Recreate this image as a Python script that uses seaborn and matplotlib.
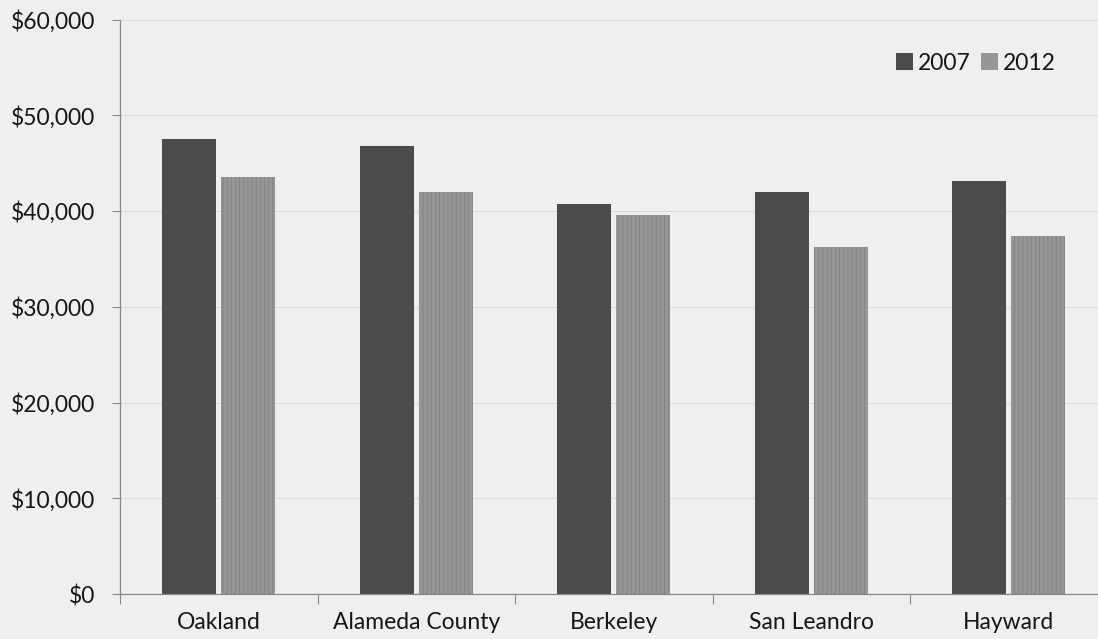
import matplotlib
matplotlib.use("Agg")
import matplotlib.pyplot as plt
from matplotlib.ticker import FuncFormatter, FixedLocator
import seaborn as sns
import pandas as pd

# Median household income by place, 2007 vs 2012
places = ["Oakland", "Alameda County", "Berkeley", "San Leandro", "Hayward"]
income_2007 = [47500, 46800, 40700, 42000, 43100]
income_2012 = [43500, 42000, 39600, 36200, 37400]
years = ["2007", "2012"]

df = pd.DataFrame({
    "place": places * 2,
    "year": [years[0]] * len(places) + [years[1]] * len(places),
    "income": income_2007 + income_2012,
})

sns.set_theme(style="white")
plt.rcParams["font.family"] = ["Lato", "DejaVu Sans"]
plt.rcParams["hatch.linewidth"] = 0.6

bg = "#efefed"
text_color = "#161616"
fs = 16.5

fig = plt.figure(figsize=(10.98, 6.39), dpi=100, facecolor=bg)
ax = fig.add_axes([120 / 1098, 45 / 639, 987.5 / 1098, 574.5 / 639])
ax.set_facecolor(bg)

sns.barplot(data=df, x="place", y="income", hue="year",
            palette={"2007": "#4b4b4b", "2012": "#969696"},
            width=0.6, gap=0.09, linewidth=0, saturation=1,
            errorbar=None, ax=ax)

# fine vertical texture on the 2012 bars
for bar in ax.containers[1]:
    bar.set_hatch("||||")
    bar.set_edgecolor("#808080")
    bar.set_linewidth(0)

ax.set_ylim(0, 60000)
ax.set_xlim(-0.5, len(places) - 0.5)
ax.yaxis.set_major_locator(FixedLocator(range(0, 60001, 10000)))
ax.yaxis.set_major_formatter(FuncFormatter(lambda v, _: f"${v:,.0f}"))
ax.grid(axis="y", color="#dcdcd9", linewidth=0.8)
ax.set_axisbelow(True)

ax.set_xlabel("")
ax.set_ylabel("")
ax.tick_params(axis="y", labelsize=fs, labelcolor=text_color, length=6,
               width=0.8, color="#888888", direction="out", pad=12, left=True)
ax.tick_params(axis="x", labelsize=fs, labelcolor=text_color, length=0, pad=13)
ax.xaxis.set_minor_locator(FixedLocator([i - 0.5 for i in range(len(places) + 1)]))
ax.tick_params(axis="x", which="minor", length=7, width=0.8, color="#888888",
               direction="out", bottom=True)

for side in ["top", "right"]:
    ax.spines[side].set_visible(False)
for side in ["left", "bottom"]:
    ax.spines[side].set_color("#888888")
    ax.spines[side].set_linewidth(0.9)

handles, labels = ax.get_legend_handles_labels()
ax.legend(handles, labels, loc="center left", ncol=2, frameon=False,
          bbox_to_anchor=(887 / 1098, 1 - 63 / 639),
          bbox_transform=fig.transFigure, fontsize=fs,
          labelcolor=text_color,
          handlelength=0.75, handleheight=0.75, handletextpad=0.2,
          columnspacing=0.45, borderaxespad=0)

fig.savefig("out.png", dpi=100, facecolor=bg)
